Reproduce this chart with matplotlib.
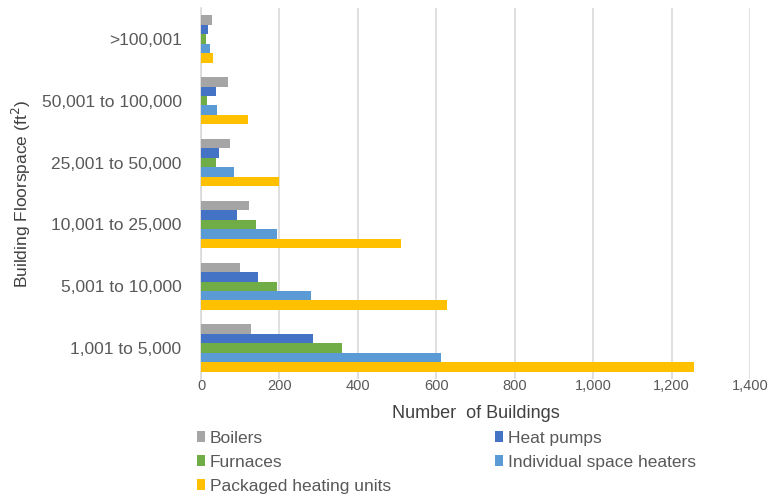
import numpy as np
import matplotlib.pyplot as plt
from matplotlib.ticker import FuncFormatter

plt.rcParams['font.family'] = ['Liberation Sans', 'DejaVu Sans']

sizes = ['1,001 to 5,000', '5,001 to 10,000', '10,001 to 25,000',
         '25,001 to 50,000', '50,001 to 100,000', '>100,001']
boilers = [127, 100, 123, 75, 68, 29]
heat_pumps = [285, 145, 92, 45, 38, 17]
furnaces = [360, 194, 139, 38, 15, 12]
space_heaters = [611, 281, 194, 83, 40, 22]
packaged = [1258, 628, 511, 200, 120, 31]

series = [
    ('Boilers', boilers, '#A5A5A5'),
    ('Heat pumps', heat_pumps, '#4472C4'),
    ('Furnaces', furnaces, '#70AD47'),
    ('Individual space heaters', space_heaters, '#5B9BD5'),
    ('Packaged heating units', packaged, '#FFC000'),
]

fig = plt.figure(figsize=(7.79, 4.96), dpi=100)
ax = fig.add_axes([201 / 779, 1 - 379 / 496, 549 / 779, 371 / 496])

y = np.arange(len(sizes))
h = 0.153
handles = {}
for i, (name, vals, col) in enumerate(series):
    off = (2 - i) * h
    b = ax.barh(y + off, vals, height=h, color=col, zorder=3)
    handles[name] = b

ax.set_xlim(0, 1400)
ax.set_ylim(-0.5, len(sizes) - 0.5)
ax.set_xticks(np.arange(0, 1401, 200))
ax.xaxis.set_major_formatter(FuncFormatter(lambda v, p: f'{int(v):,}'))
ax.set_yticks(y)
ax.set_yticklabels(sizes)
ax.grid(axis='x', color='#D9D9D9', linewidth=1.2, zorder=0)
for s in ['top', 'right', 'bottom']:
    ax.spines[s].set_visible(False)
ax.spines['left'].set_color('#D9D9D9')
ax.spines['left'].set_linewidth(1.2)
ax.tick_params(axis='both', length=0, colors='#595959')
ax.tick_params(axis='x', labelsize=10.5, pad=0)
ax.tick_params(axis='y', labelsize=12.5, pad=14)

ax.set_xlabel('Number  of Buildings', fontsize=13, color='#404040', labelpad=9)
ax.set_ylabel('Building Floorspace (ft$^2$)', fontsize=12.5, color='#404040', labelpad=6)

order = ['Boilers', 'Furnaces', 'Packaged heating units', 'Heat pumps', 'Individual space heaters']
leg = fig.legend([handles[n] for n in order], order, ncol=2, loc='upper left',
                 bbox_to_anchor=(197 / 779, 1 - 431 / 496), frameon=False,
                 borderpad=0, borderaxespad=0,
                 fontsize=12.5, handlelength=0.45, handleheight=0.6, handletextpad=0.3,
                 columnspacing=6.0, labelspacing=0.52)
for t in leg.get_texts():
    t.set_color('#595959')

fig.savefig('out.png', dpi=100)
